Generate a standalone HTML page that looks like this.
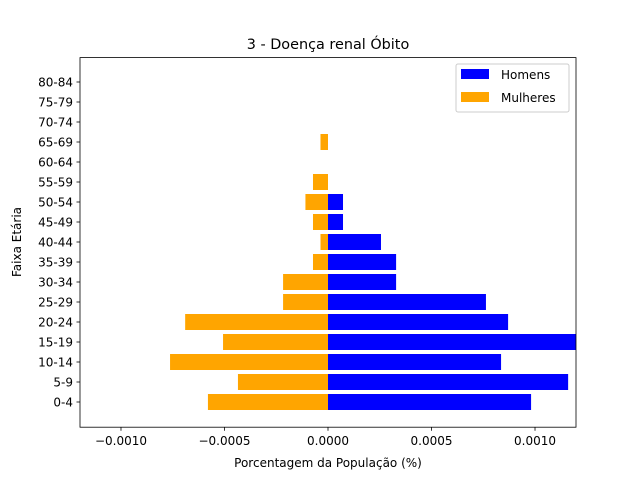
<!DOCTYPE html>
<html><head><meta charset="utf-8"><style>
body{margin:0;background:#fff;}
svg text{font-family:"DejaVu Sans","Liberation Sans",sans-serif;fill:#000;}
</style></head><body>
<svg id="chart" width="640" height="480" xmlns="http://www.w3.org/2000/svg">
<rect width="640" height="480" fill="#fff"/>
<text x="328" y="49" font-size="14.4" text-anchor="middle">3 - Doença renal Óbito</text>
<g id="bars"></g>
<rect x="80" y="57.6" width="496" height="369.6" fill="none" stroke="#000" stroke-width="0.8"/>
<g id="xticks"></g><g id="yticks"></g>
<text x="328" y="467" font-size="12" text-anchor="middle">Porcentagem da População (%)</text>
<text x="21" y="242" font-size="12" text-anchor="middle" transform="rotate(-90 21 242)">Faixa Etária</text>
<g>
<rect x="456" y="64" width="113" height="48" fill="#fff" stroke="#ccc" rx="2"/>
<rect x="461" y="69" width="28" height="10" fill="#0000ff"/>
<text x="501" y="79" font-size="12">Homens</text>
<rect x="461" y="92" width="28" height="10" fill="#ffa500"/>
<text x="501" y="102" font-size="12">Mulheres</text>
</g>
</svg>
<script>
const categories=["0-4","5-9","10-14","15-19","20-24","25-29","30-34","35-39","40-44","45-49","50-54","55-59","60-64","65-69","70-74","75-79","80-84"];
const homens=[0.000981,0.00116,0.000836,0.001198,0.00087,0.000763,0.000329,0.000329,0.000256,0.0000725,0.0000725,0,0,0,0,0,0];
const mulheres=[-0.00058,-0.000435,-0.000763,-0.000507,-0.00069,-0.000217,-0.000217,-0.0000725,-0.0000363,-0.0000725,-0.000109,-0.0000725,0,-0.0000363,0,0,0];
const xTicks=[-0.001,-0.0005,0,0.0005,0.001];
const xTickLabels=["−0.0010","−0.0005","0.0000","0.0005","0.0010"];
const NS="http://www.w3.org/2000/svg";
const xMax=0.001198;
function xs(v){return 80+(v+xMax)/(2*xMax)*496;}
function ys(i){return 402-20*i;}
const bars=document.getElementById('bars');
function rect(v,i,color,name){
  const r=document.createElementNS(NS,'rect');
  const a=xs(0),b=xs(v);
  r.setAttribute('x',Math.min(a,b));r.setAttribute('width',Math.abs(b-a));
  r.setAttribute('y',ys(i)-8);r.setAttribute('height',16);r.setAttribute('fill',color);
  
  
  bars.appendChild(r);
}
categories.forEach((c,i)=>{rect(homens[i],i,'#0000ff','bar-homens-'+c);rect(mulheres[i],i,'#ffa500','bar-mulheres-'+c);});
const xt=document.getElementById('xticks');
xTicks.forEach((t,k)=>{
  const x=xs(t);
  const l=document.createElementNS(NS,'line');
  l.setAttribute('x1',x);l.setAttribute('x2',x);l.setAttribute('y1',427.2);l.setAttribute('y2',430.7);l.setAttribute('stroke','#000');l.setAttribute('stroke-width','0.8');
  
  
  xt.appendChild(l);
  const tx=document.createElementNS(NS,'text');
  tx.setAttribute('x',x);tx.setAttribute('y',445);tx.setAttribute('font-size','12');tx.setAttribute('text-anchor','middle');
  tx.textContent=xTickLabels[k];
  
  
  xt.appendChild(tx);
});
const yt=document.getElementById('yticks');
categories.forEach((c,i)=>{
  const y=ys(i);
  const l=document.createElementNS(NS,'line');
  l.setAttribute('x1',76.5);l.setAttribute('x2',80);l.setAttribute('y1',y);l.setAttribute('y2',y);l.setAttribute('stroke','#000');l.setAttribute('stroke-width','0.8');
  
  
  yt.appendChild(l);
  const tx=document.createElementNS(NS,'text');
  tx.setAttribute('x',73);tx.setAttribute('y',y+4.5);tx.setAttribute('font-size','12');tx.setAttribute('text-anchor','end');
  tx.textContent=c;
  
  
  yt.appendChild(tx);
});
</script>
</body></html>
